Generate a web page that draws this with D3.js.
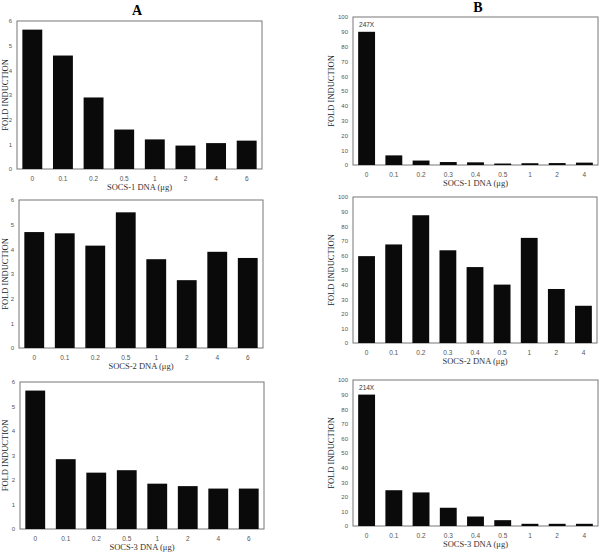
<!DOCTYPE html>
<html>
<head>
<meta charset="utf-8">
<script src="https://cdn.jsdelivr.net/npm/d3@7"></script>
<style>
  body { margin: 0; background: #fff; }
  svg { display: block; }
</style>
</head>
<body>
<svg width="600" height="553"></svg>
<script>
// dosi di DNA (categorie)
var dosesA = ["0", "0.1", "0.2", "0.5", "1", "2", "4", "6"];
var dosesB = ["0", "0.1", "0.2", "0.3", "0.4", "0.5", "1", "2", "4"];

// fold induction
var socs1A = [5.65, 4.6, 2.9, 1.6, 1.2, 0.95, 1.05, 1.15];
var socs2A = [4.7, 4.65, 4.15, 5.5, 3.6, 2.75, 3.9, 3.65];
var socs3A = [5.65, 2.85, 2.3, 2.4, 1.85, 1.75, 1.65, 1.65];
var socs1B = [90, 6.5, 3, 2, 1.8, 1, 1.2, 1.3, 1.6];
var socs2B = [59.5, 67.5, 87.5, 63.5, 52, 40, 72, 37, 25.5];
var socs3B = [90, 24.5, 23, 12.5, 6.5, 4, 1.5, 1.5, 1.5];

var ticksA = [0, 1, 2, 3, 4, 5, 6];
var ticksB = [0, 10, 20, 30, 40, 50, 60, 70, 80, 90, 100];

var titlesX = ["SOCS-1 DNA (\u03bcg)", "SOCS-2 DNA (\u03bcg)", "SOCS-3 DNA (\u03bcg)"];
// valori fuori scala scritti sopra la prima barra
var notesB = ["247X", "", "214X"];

var svg = d3.select("svg");

// riquadri dei pannelli
var panels = [
  {x0: 17, x1: 262, y0: 21, y1: 169, cats: dosesA, vals: socs1A, ticks: ticksA, xt: titlesX[0], note: "", yl: 8},
  {x0: 19, x1: 263, y0: 200, y1: 348, cats: dosesA, vals: socs2A, ticks: ticksA, xt: titlesX[1], note: "", yl: 8},
  {x0: 20, x1: 264, y0: 382, y1: 529, cats: dosesA, vals: socs3A, ticks: ticksA, xt: titlesX[2], note: "", yl: 8},
  {x0: 353, x1: 598, y0: 17, y1: 165, cats: dosesB, vals: socs1B, ticks: ticksB, xt: titlesX[0], note: notesB[0], yl: 334},
  {x0: 353, x1: 597, y0: 197, y1: 343, cats: dosesB, vals: socs2B, ticks: ticksB, xt: titlesX[1], note: notesB[1], yl: 334},
  {x0: 353, x1: 598, y0: 380, y1: 526, cats: dosesB, vals: socs3B, ticks: ticksB, xt: titlesX[2], note: notesB[2], yl: 334}
];

svg.append("text").attr("x", 137).attr("y", 15)
  .attr("text-anchor", "middle")
  .style("font-family", "Liberation Serif").style("font-weight", "bold").style("font-size", "14px")
  .text("A");
svg.append("text").attr("x", 478).attr("y", 12)
  .attr("text-anchor", "middle")
  .style("font-family", "Liberation Serif").style("font-weight", "bold").style("font-size", "14px")
  .text("B");

panels.forEach(function(p) {
  var pi = p.cats.length == 8 ? 0.35 : 0.38;
  var x = d3.scaleBand().domain(p.cats).range([p.x0, p.x1])
    .paddingInner(pi).paddingOuter(pi / 2);
  var y = d3.scaleLinear().domain([0, d3.max(p.ticks)]).range([p.y1, p.y0]);
  var g = svg.append("g");

  // cornice
  g.append("rect")
    .attr("x", p.x0).attr("y", p.y0)
    .attr("width", p.x1 - p.x0).attr("height", p.y1 - p.y0)
    .attr("fill", "none").attr("stroke", "#777").attr("stroke-width", 1);

  g.selectAll(".bar").data(p.vals).enter().append("rect")
    .attr("x", function(d, i) { return x(p.cats[i]); })
    .attr("width", x.bandwidth())
    .attr("y", function(d) { return y(d); })
    .attr("height", function(d) { return y(0) - y(d); })
    .attr("fill", "#0a0a0a");

  // etichette asse y
  var yAxis = d3.axisLeft(y).tickValues(p.ticks).tickFormat(d3.format("d")).tickSize(0).tickPadding(5);
  var ya = g.append("g").attr("transform", "translate(" + p.x0 + ",0)").call(yAxis);
  ya.select(".domain").remove();
  ya.selectAll("text").style("font-family", "Liberation Sans").style("font-size", "6px").attr("fill", "#555");

  var xAxis = d3.axisBottom(x).tickSize(0).tickPadding(7);
  var xa = g.append("g").attr("transform", "translate(0," + p.y1 + ")").call(xAxis);
  xa.select(".domain").remove();
  xa.selectAll("text").style("font-family", "Liberation Sans").style("font-size", "6.5px").attr("fill", "#555");

  g.append("text")
    .attr("x", (p.x0 + p.x1) / 2).attr("y", p.y1 + 21)
    .attr("text-anchor", "middle")
    .style("font-family", "Liberation Serif").style("font-size", "8.5px").attr("fill", "#333")
    .text(p.xt);

  g.append("text")
    .attr("transform", "translate(" + p.yl + "," + ((p.y0 + p.y1) / 2) + ") rotate(-90)")
    .attr("text-anchor", "middle")
    .style("font-family", "Liberation Serif").style("font-size", "8.5px").attr("fill", "#222")
    .text("FOLD INDUCTION");

  if (p.note) {
    g.append("text")
      .attr("x", x(p.cats[0]) + x.bandwidth() / 2).attr("y", y(p.vals[0]) - 5)
      .attr("text-anchor", "middle")
      .style("font-family", "Liberation Sans").style("font-size", "6.5px").attr("fill", "#333")
      .text(p.note);
  }
});
</script>
</body>
</html>
